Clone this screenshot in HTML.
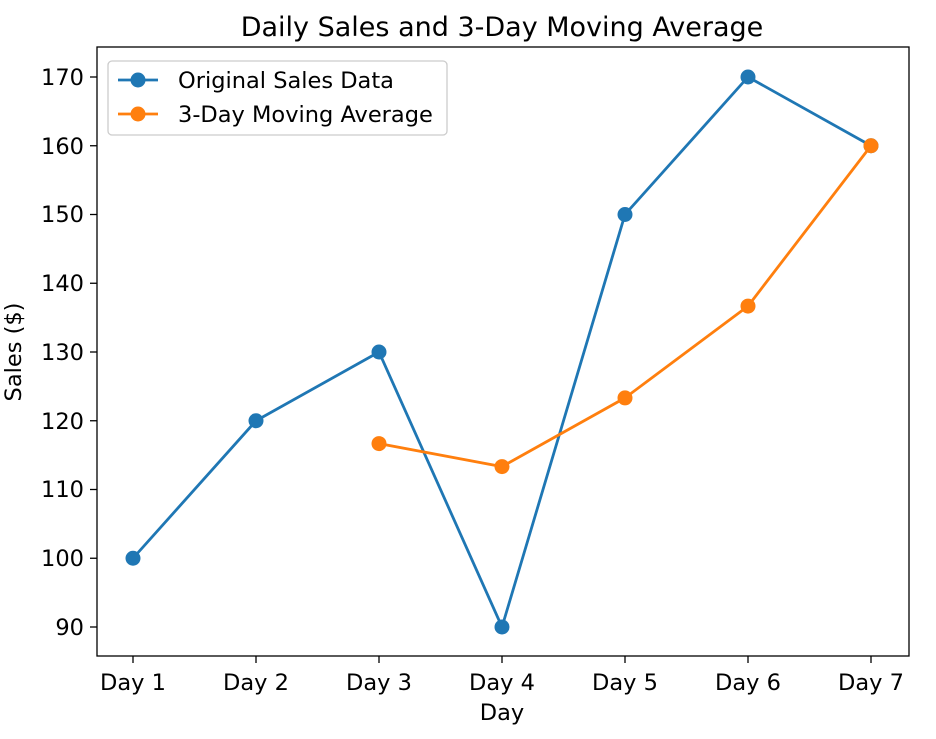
<!DOCTYPE html>
<html><head><meta charset="utf-8"><style>
body{margin:0;background:#fff}
svg{display:block}
text{font-family:"DejaVu Sans","Liberation Sans",sans-serif;fill:#000}
</style></head><body>
<svg width="936" height="739" viewBox="0 0 936 739">
<rect x="0" y="0" width="936" height="739" fill="#fff"/>
<text x="502" y="36" font-size="27" text-anchor="middle">Daily Sales and 3-Day Moving Average</text>
<rect x="97" y="47" width="812" height="609" fill="none" stroke="#000" stroke-width="1.3"/>
<g stroke="#000" stroke-width="1.3">
<line x1="133" y1="656" x2="133" y2="663"/><line x1="256" y1="656" x2="256" y2="663"/><line x1="379" y1="656" x2="379" y2="663"/><line x1="502" y1="656" x2="502" y2="663"/><line x1="625" y1="656" x2="625" y2="663"/><line x1="748" y1="656" x2="748" y2="663"/><line x1="871" y1="656" x2="871" y2="663"/>
<line x1="90" y1="627" x2="97" y2="627"/><line x1="90" y1="558.25" x2="97" y2="558.25"/><line x1="90" y1="489.5" x2="97" y2="489.5"/><line x1="90" y1="420.75" x2="97" y2="420.75"/><line x1="90" y1="352" x2="97" y2="352"/><line x1="90" y1="283.25" x2="97" y2="283.25"/><line x1="90" y1="214.5" x2="97" y2="214.5"/><line x1="90" y1="145.75" x2="97" y2="145.75"/><line x1="90" y1="77" x2="97" y2="77"/>
</g>
<g font-size="22.5" text-anchor="middle">
<text x="133" y="690">Day 1</text><text x="256" y="690">Day 2</text><text x="379" y="690">Day 3</text><text x="502" y="690">Day 4</text><text x="625" y="690">Day 5</text><text x="748" y="690">Day 6</text><text x="871" y="690">Day 7</text>
</g>
<g font-size="22.5" text-anchor="end">
<text x="84" y="635">90</text><text x="84" y="566">100</text><text x="84" y="497">110</text><text x="84" y="429">120</text><text x="84" y="360">130</text><text x="84" y="291">140</text><text x="84" y="222">150</text><text x="84" y="154">160</text><text x="84" y="85">170</text>
</g>
<text x="502" y="720" font-size="22.5" text-anchor="middle">Day</text>
<text transform="translate(21,352) rotate(-90)" font-size="22.5" text-anchor="middle">Sales ($)</text>
<polyline fill="none" stroke="#1f77b4" stroke-width="2.8" points="133,558.25 256,420.75 379,352 502,627 625,214.5 748,77 871,145.75"/>
<g fill="#1f77b4"><circle cx="133" cy="558.25" r="7.5"/><circle cx="256" cy="420.75" r="7.5"/><circle cx="379" cy="352" r="7.5"/><circle cx="502" cy="627" r="7.5"/><circle cx="625" cy="214.5" r="7.5"/><circle cx="748" cy="77" r="7.5"/><circle cx="871" cy="145.75" r="7.5"/></g>
<polyline fill="none" stroke="#ff7f0e" stroke-width="2.8" points="379,443.6 502,466.6 625,397.9 748,306.1 871,145.75"/>
<g fill="#ff7f0e"><circle cx="379" cy="443.6" r="7.5"/><circle cx="502" cy="466.6" r="7.5"/><circle cx="625" cy="397.9" r="7.5"/><circle cx="748" cy="306.1" r="7.5"/><circle cx="871" cy="145.75" r="7.5"/></g>
<rect x="108" y="61" width="339" height="74" rx="4" fill="#fff" fill-opacity="0.8" stroke="#ccc" stroke-width="1.3"/>
<line x1="118" y1="80" x2="158" y2="80" stroke="#1f77b4" stroke-width="2.8"/><circle cx="138" cy="80" r="7.5" fill="#1f77b4"/>
<line x1="118" y1="114" x2="158" y2="114" stroke="#ff7f0e" stroke-width="2.8"/><circle cx="138" cy="114" r="7.5" fill="#ff7f0e"/>
<text x="178" y="88" font-size="22.5">Original Sales Data</text>
<text x="178" y="122" font-size="22.5">3-Day Moving Average</text>
</svg>
</body></html>
